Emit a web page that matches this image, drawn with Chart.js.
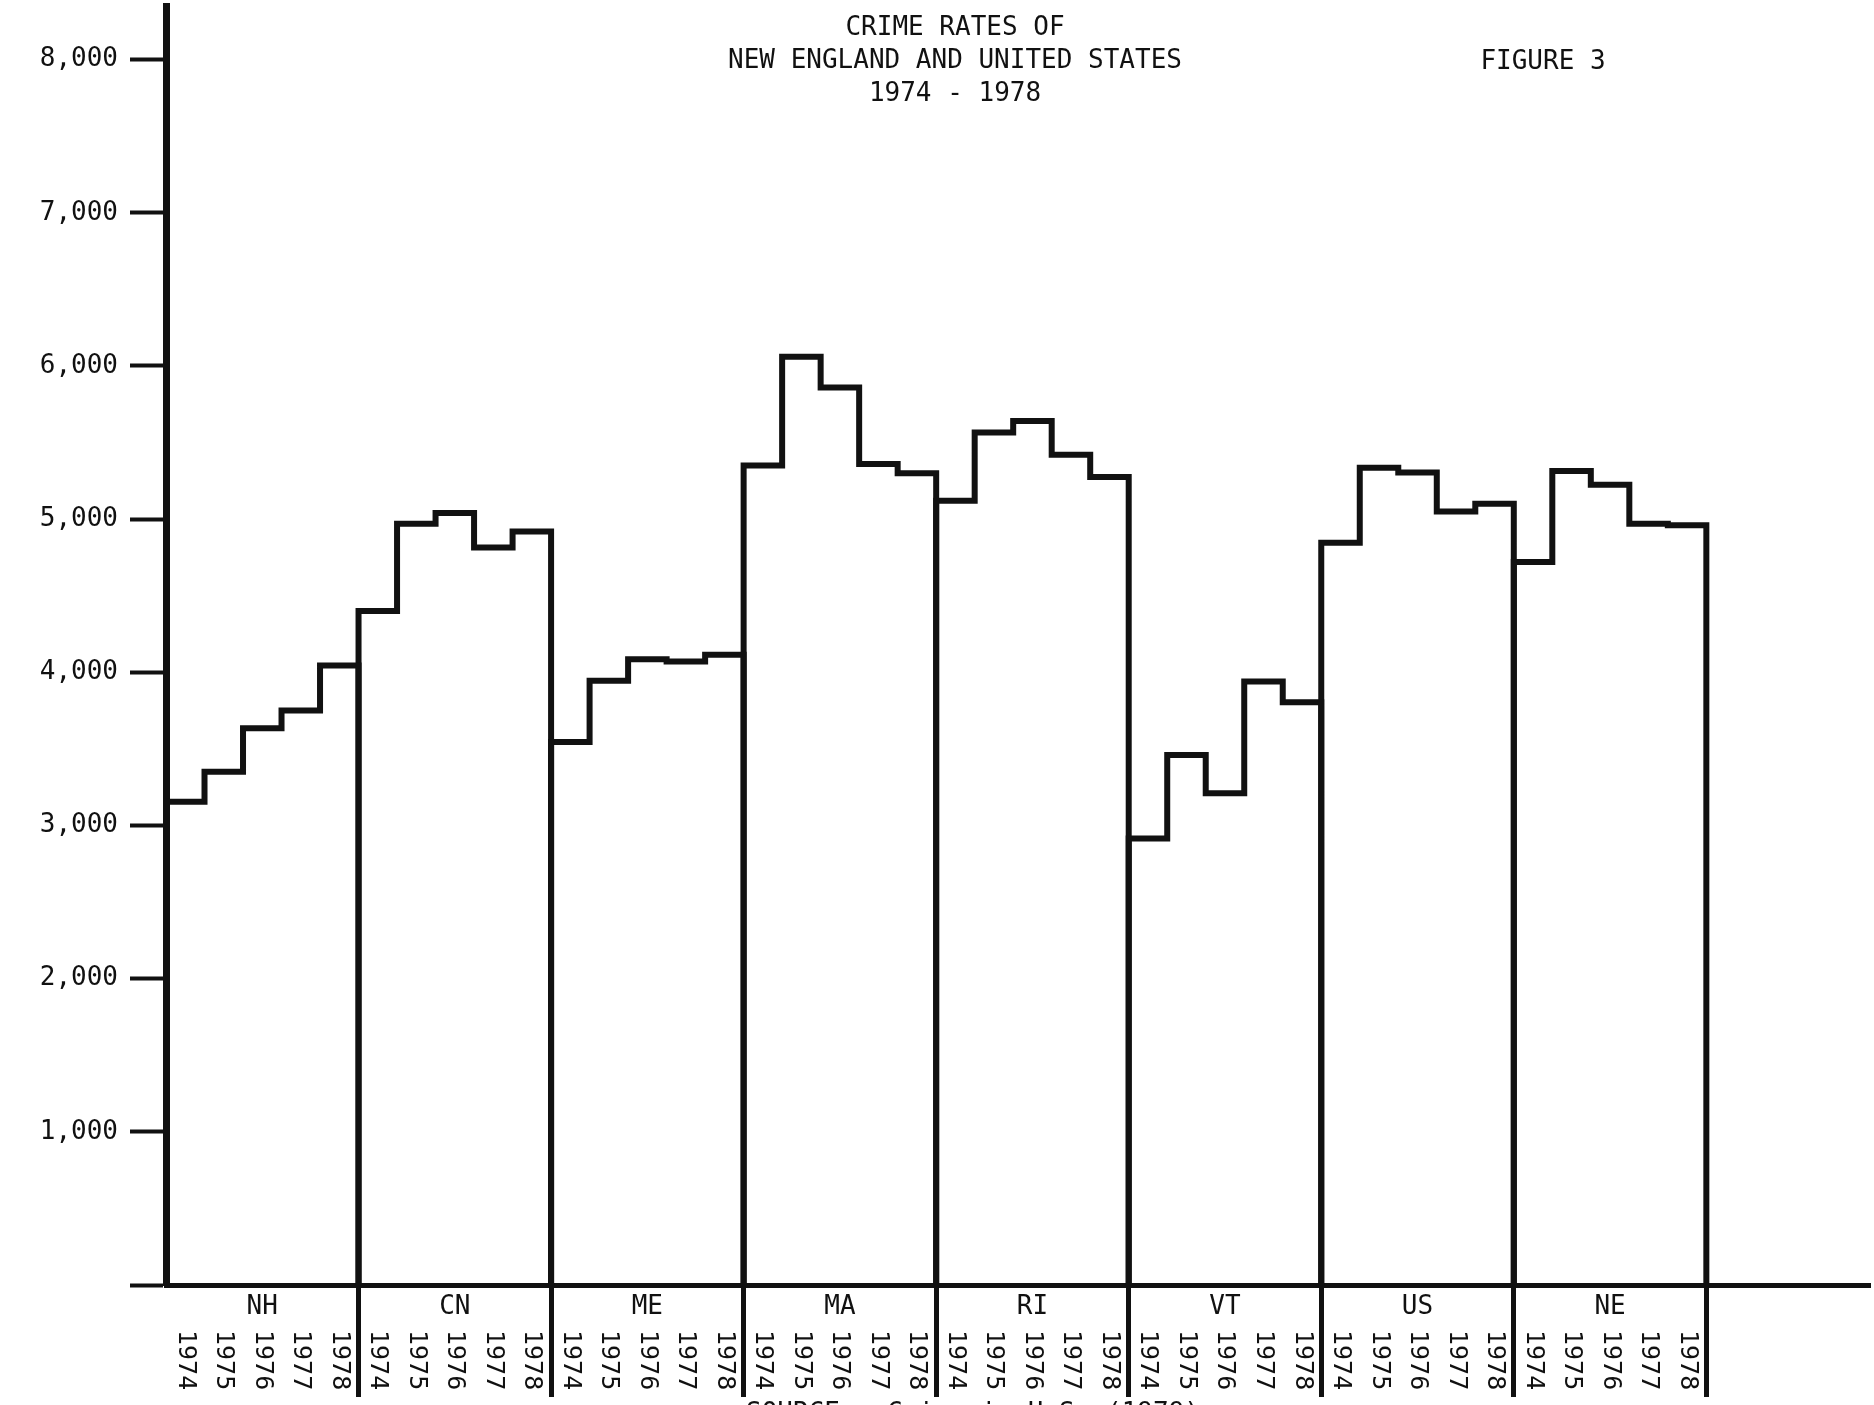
<!DOCTYPE html>
<html>
<head>
<meta charset="utf-8">
<script src="https://cdn.jsdelivr.net/npm/chart.js@4.4.1/dist/chart.umd.min.js"></script>
<style>
    html, body { margin: 0; padding: 0; background: #fff; overflow: hidden; }
    #wrap { position: relative; width: 1874px; height: 1405px; }
    .txt { position: absolute; font-family: "DejaVu Sans Mono", monospace; font-size: 26px; line-height: 32px; color: #111; white-space: pre; }
    #title { left: 605px; width: 700px; top: 10px; text-align: center; line-height: 33px; }
    #figure { left: 1443px; width: 200px; top: 44px; text-align: center; }
    #source { left: 746px; top: 1396px; }
</style>
</head>
<body>
<div id="wrap">
    <canvas id="crimeChart"></canvas>
    <div class="txt" id="title">CRIME RATES OF
NEW ENGLAND AND UNITED STATES
1974 - 1978</div>
    <div class="txt" id="figure">FIGURE 3</div>
    <div class="txt" id="source">SOURCE - Crime in U.S. (1979)</div>
</div>
<script>
    // crime rate per state, 1974-1978
    const groups = ['NH', 'CN', 'ME', 'MA', 'RI', 'VT', 'US', 'NE'];
    const years = ['1974', '1975', '1976', '1977', '1978'];
    const nh = [3155, 3350, 3635, 3750, 4045];
    const cn = [4400, 4970, 5040, 4815, 4920];
    const me = [3545, 3945, 4085, 4070, 4115];
    const ma = [5350, 6060, 5860, 5360, 5300];
    const ri = [5120, 5565, 5640, 5420, 5275];
    const vt = [2915, 3460, 3210, 3940, 3805];
    const us = [4845, 5335, 5305, 5050, 5100];
    const ne = [4720, 5315, 5225, 4970, 4960];
    const yTicks = [0, 1000, 2000, 3000, 4000, 5000, 6000, 7000, 8000];

    const series = [nh, cn, me, ma, ri, vt, us, ne];
    const FONT = '"DejaVu Sans Mono", monospace';

    // outline of one group: up from the baseline, one step per year, back down
    const stepPoints = (vals, g) => {
        const x0 = g * years.length;
        const pts = [{ x: x0, y: 0 }];
        vals.forEach((v, i) => pts.push({ x: x0 + i, y: v }));
        pts.push({ x: x0 + vals.length, y: vals[vals.length - 1] });
        pts.push({ x: x0 + vals.length, y: 0 });
        return pts;
    };

    const bottomLabels = {
        id: 'bottomLabels',
        afterDraw(chart) {
            const { ctx, chartArea } = chart;
            const x = chart.scales.x;
            const base = chartArea.bottom;
            ctx.save();
            ctx.fillStyle = '#111';
            groups.forEach((name, g) => {
                ctx.font = '26px ' + FONT;
                ctx.textAlign = 'center';
                ctx.textBaseline = 'middle';
                ctx.fillText(name, x.getPixelForValue(g * years.length + years.length / 2), base + 22);

                ctx.font = '25px ' + FONT;
                years.forEach((yr, i) => {
                    ctx.save();
                    ctx.translate(x.getPixelForValue(g * years.length + i + 0.5), base + 45);
                    ctx.rotate(Math.PI / 2);
                    ctx.textAlign = 'left';
                    ctx.textBaseline = 'middle';
                    ctx.fillText(yr, 0, 0);
                    ctx.restore();
                });
            });
            ctx.restore();
        }
    };

    new Chart(document.getElementById('crimeChart'), {
        type: 'line',
        data: {
            datasets: series.map((vals, g) => ({
                label: groups[g],
                data: stepPoints(vals, g),
                stepped: true,
                borderColor: '#111',
                borderWidth: 6,
                borderJoinStyle: 'miter',
                pointRadius: 0,
                fill: false
            }))
        },
        options: {
            animation: false,
            responsive: true,
            maintainAspectRatio: false,
            layout: { padding: { top: 6, right: 4, left: 0, bottom: 0 } },
            plugins: {
                legend: { display: false },
                tooltip: { enabled: false }
            },
            scales: {
                x: {
                    type: 'linear',
                    min: 0,
                    max: 44.25,
                    afterBuildTicks: s => { s.ticks = groups.map((_, g) => ({ value: (g + 1) * years.length })); },
                    afterFit: s => { s.height = 120; s.paddingLeft = 0; s.paddingRight = 0; },
                    ticks: { display: false },
                    grid: { drawOnChartArea: false, drawTicks: true, tickLength: 112, tickWidth: 5, tickColor: '#111' },
                    border: { display: true, color: '#111', width: 5 }
                },
                y: {
                    min: 0,
                    max: 8350,
                    afterBuildTicks: s => { s.ticks = yTicks.map(v => ({ value: v })); },
                    afterFit: s => { s.width = 166; s.paddingTop = 0; s.paddingBottom = 0; },
                    ticks: {
                        color: '#111',
                        padding: 12,
                        font: { family: FONT, size: 26 },
                        callback: v => v === 0 ? '' : v.toLocaleString('en-US')
                    },
                    grid: { drawOnChartArea: false, drawTicks: true, tickLength: 36, tickWidth: 4, tickColor: '#111' },
                    border: { display: true, color: '#111', width: 7 }
                }
            }
        },
        plugins: [bottomLabels]
    });
</script>
</body>
</html>
